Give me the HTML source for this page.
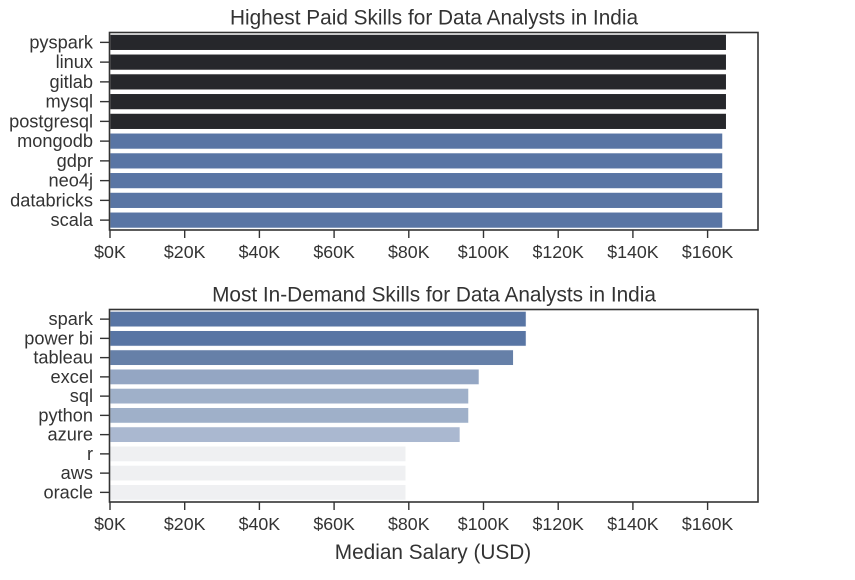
<!DOCTYPE html>
<html><head><meta charset="utf-8"><style>
body{margin:0;background:#fff;}
svg text{font-family:"Liberation Sans",sans-serif;fill:#333;}
</style></head><body>
<svg id="chart" width="855" height="575" xmlns="http://www.w3.org/2000/svg"></svg>
<script>
const topSkills=["pyspark","linux","gitlab","mysql","postgresql","mongodb","gdpr","neo4j","databricks","scala"];
const topValues=[165,165,165,165,165,164,164,164,164,164];
const topColors=["#26272b","#26272b","#26272b","#26272b","#26272b","#5975a4","#5975a4","#5975a4","#5975a4","#5975a4"];
const botSkills=["spark","power bi","tableau","excel","sql","python","azure","r","aws","oracle"];
const botValues=[111.4,111.4,108,98.8,96,96,93.7,79.2,79.2,79.2];
const botColors=["#5875a4","#5875a4","#6680a8","#94a6c3","#9fb0c9","#9fb0c9","#aab8d0","#eff0f2","#eff0f2","#eff0f2"];
const tickVals=[0,20,40,60,80,100,120,140,160];
const tickLabels=["$0K","$20K","$40K","$60K","$80K","$100K","$120K","$140K","$160K"];
const NS="http://www.w3.org/2000/svg";
const svg=document.getElementById('chart');
const X0=110,K=3.735;
function xs(v){return X0+v*K;}
function mk(t,a,p){const e=document.createElementNS(NS,t);for(const k in a)e.setAttribute(k,a[k]);(p||svg).appendChild(e);return e;}
function panel(name,title,top,bottom,skills,vals,cols){
  const g=mk('g',{});
  
  
  const band=(bottom-top)/skills.length;
  skills.forEach((s,i)=>{
    const cy=top+band*(i+0.5);
    const r=mk('rect',{x:X0,y:cy-band*0.4,width:xs(vals[i])-X0,height:band*0.8,fill:cols[i],stroke:'#fff','stroke-width':0.6},g);
    
    
    mk('line',{x1:X0-10,x2:X0,y1:cy,y2:cy,stroke:'#333','stroke-width':1.4},g);
    const t=mk('text',{x:X0-17,y:cy+6,'text-anchor':'end','font-size':18.2},g);
    t.textContent=s;
    
    
  });
  const f=mk('rect',{x:X0-0.5,y:top,width:758-X0+0.5,height:bottom-top,fill:'none',stroke:'#333','stroke-width':1.6},g);
  
  
  tickVals.forEach((v,i)=>{
    mk('line',{x1:xs(v),x2:xs(v),y1:bottom,y2:bottom+8,stroke:'#333','stroke-width':1.4},g);
    const t=mk('text',{x:xs(v),y:bottom+28,'text-anchor':'middle','font-size':17.8},g);
    t.textContent=tickLabels[i];
    
    
  });
  const tt=mk('text',{x:434,y:top-8,'text-anchor':'middle','font-size':20.8},g);
  tt.textContent=title;
  
  
}
panel('top-paid-panel','Highest Paid Skills for Data Analysts in India',32.5,230,topSkills,topValues,topColors);
panel('in-demand-panel','Most In-Demand Skills for Data Analysts in India',309.5,502,botSkills,botValues,botColors);
const xl=mk('text',{x:433,y:559,'text-anchor':'middle','font-size':20.8});
xl.textContent='Median Salary (USD)';


</script>
</body></html>
